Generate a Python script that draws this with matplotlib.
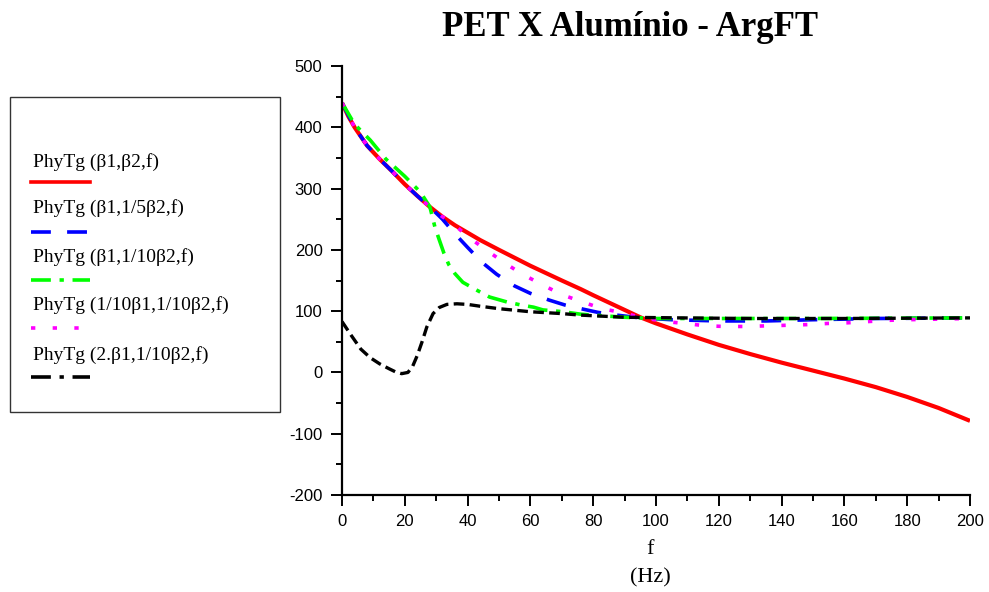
import matplotlib
matplotlib.use("Agg")
import matplotlib.pyplot as plt
from matplotlib.lines import Line2D
from matplotlib.patches import Rectangle
from matplotlib.ticker import MultipleLocator

plt.rcParams['axes.unicode_minus'] = False

# leitura aproximada das curvas (f em Hz, fase em graus)
red_f = [0, 2, 4, 8, 12, 16, 20, 24, 28, 32, 36, 40, 44, 50, 60, 70, 76, 80, 90, 95,
         100, 110, 120, 130, 140, 150, 160, 170, 180, 190, 200]
red_v = [440, 418, 400, 370, 348, 328, 307, 288, 270, 254, 240, 228, 216, 200, 174, 150,
         136, 126, 102, 90, 80, 62, 45, 30, 16, 3, -10, -24, -40, -58, -79]

blue_f = [0, 4, 8, 12, 16, 20, 24, 28, 32, 36, 40, 44.5, 49.3, 55, 60, 66, 71, 77,
          81.5, 87.5, 95, 105, 120, 135, 150, 170, 200]
blue_v = [440, 400, 370, 348, 328, 307, 288, 270, 250, 226, 204, 180, 160, 141, 129,
          118, 110, 103, 98, 93.5, 89, 86, 84, 84, 86, 88, 89]

green_f = [0, 4, 9, 14, 20, 25, 28, 29.6, 31, 32.5, 34, 36, 38.5, 43, 47, 52.5, 57,
           61, 64, 70.5, 76, 90, 100, 120, 150, 200]
green_v = [440, 405, 379, 348, 320, 294, 270, 237, 216, 194, 176, 161, 147, 134, 123,
           115, 110, 106.5, 102, 99, 95, 90, 88, 88, 88, 89]

mag_f = [0, 4, 8, 12, 16, 20, 24, 28, 32, 36, 40, 44.5, 51, 57, 63.6, 70, 76.7, 83,
         89.6, 96, 103, 109, 116, 122, 129, 135, 142, 148, 155, 161, 167.5, 174, 180,
         190, 200]
mag_v = [440, 400, 370, 348, 328, 307, 288, 270, 254, 240, 222, 205, 181.5, 161.5,
         143.5, 127, 114.7, 104, 97, 89, 83, 80, 76, 75, 75, 76, 77, 78, 80, 81, 83,
         85, 86, 87, 88]

black_f = [0, 3, 6, 9, 12, 15, 17, 19, 21, 22.5, 24, 25.5, 27, 29, 31, 33.4, 36.6,
           40, 44, 50, 60, 70, 76, 90, 107.6, 130, 160, 200]
black_v = [83, 60, 38, 24, 14, 6, 1, -2, 0, 10, 28, 50, 74, 96, 106, 111, 112, 111,
           108, 104, 99, 96, 93.5, 90, 89, 88, 88, 89]

labels = ["PhyTg (β1,β2,f)", "PhyTg (β1,1/5β2,f)", "PhyTg (β1,1/10β2,f)",
          "PhyTg (1/10β1,1/10β2,f)", "PhyTg (2.β1,1/10β2,f)"]

W, H = 989, 592
fig = plt.figure(figsize=(W / 100, H / 100), dpi=100)
ax = fig.add_axes([342 / W, 1 - 495 / H, (970 - 342) / W, (495 - 66) / H])

ax.plot(red_f, red_v, color="#ff0000", lw=3.0, solid_capstyle="butt")
ax.plot(blue_f, blue_v, color="#0000ff", lw=2.6, dashes=(5.5, 4.5))
ax.plot(green_f, green_v, color="#00ff00", lw=2.6, dashes=(5.5, 2.4, 1.2, 2.4))
ax.plot(mag_f, mag_v, color="#ff00ff", lw=2.6, dashes=(1.2, 4.8))
ax.plot(black_f, black_v, color="black", lw=2.4, dashes=(3.2, 1.6))

ax.set_xlim(0, 200)
ax.set_ylim(-200, 500)
ax.xaxis.set_major_locator(MultipleLocator(20))
ax.xaxis.set_minor_locator(MultipleLocator(10))
ax.yaxis.set_major_locator(MultipleLocator(100))
ax.yaxis.set_minor_locator(MultipleLocator(50))
for s in ["top", "right"]:
    ax.spines[s].set_visible(False)
for s in ["left", "bottom"]:
    ax.spines[s].set_linewidth(1.6)
ax.tick_params(which="major", direction="out", length=8, width=1.4, pad=6,
               labelsize=12)
ax.tick_params(which="minor", direction="out", length=4.5, width=1.4)
for lab in ax.get_xticklabels() + ax.get_yticklabels():
    lab.set_family("Liberation Sans")

fig.text(630 / W, 1 - 28 / H, "PET X Alumínio - ArgFT", ha="center", va="center",
         family="Liberation Serif", fontweight="bold", fontsize=25)
fig.text(650 / W, 1 - 549 / H, "f", ha="center", va="center",
         family="Liberation Serif", fontsize=16)
fig.text(650 / W, 1 - 578 / H, "(Hz)", ha="center", va="center",
         family="Liberation Serif", fontsize=16)

# legenda desenhada à mão (texto acima da amostra de linha)
fig.add_artist(Rectangle((10 / W, 1 - 412 / H), 270 / W, 315 / H,
                         transform=fig.transFigure, fill=False,
                         edgecolor="#333333", lw=1.0))
styles = [dict(color="#ff0000", lw=2.6),
          dict(color="#0000ff", lw=2.6, dashes=(5.5, 4.5)),
          dict(color="#00ff00", lw=2.6, dashes=(5.5, 2.4, 1.2, 2.4)),
          dict(color="#ff00ff", lw=2.6, dashes=(1.2, 4.8)),
          dict(color="black", lw=2.6, dashes=(5.5, 2.4, 1.2, 2.4))]
text_y = [162, 208, 257, 305, 355]
line_y = [182, 232, 280, 328, 377]
for lab, st, ty, ly in zip(labels, styles, text_y, line_y):
    fig.text(33 / W, 1 - ty / H, lab, ha="left", va="center",
             family="Liberation Serif", fontsize=14)
    fig.add_artist(Line2D([31 / W, 90 / W], [1 - ly / H, 1 - ly / H],
                          transform=fig.transFigure, **st))

fig.savefig("out.png", dpi=100)
